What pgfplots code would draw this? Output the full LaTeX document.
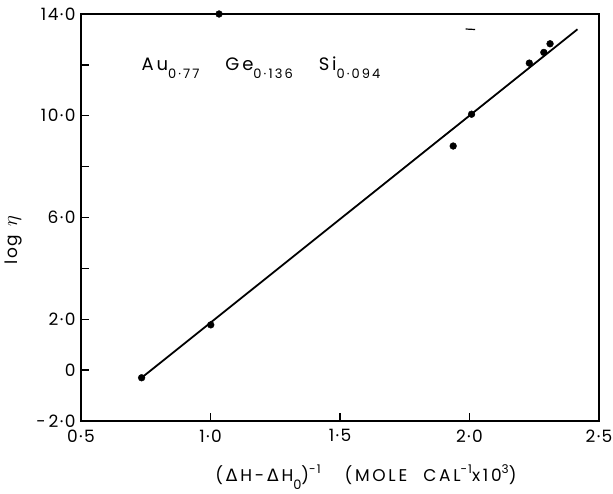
\documentclass[border=0pt]{standalone}
\usepackage{fontspec}
\setmainfont{Poppins}
\newfontfamily\dv{DejaVu Sans}
\newfontfamily\ls{Poppins}[LetterSpace=8]
\newfontfamily\lsw{Poppins}[LetterSpace=16]
\usepackage{pgfplots}
\pgfplotsset{compat=1.18}
\newcommand{\mysub}[1]{\raisebox{-8pt}{\fontsize{13}{14}\selectfont\ls #1}}
\newcommand{\mysubw}[1]{\raisebox{-8pt}{\fontsize{13}{14}\selectfont\lsw #1}}
\newcommand{\mysup}[1]{\raisebox{8pt}{\fontsize{12}{13}\selectfont\ls #1}}
\begin{document}
\begin{tikzpicture}
\useasboundingbox (-81pt,-72pt) rectangle (532pt,421pt);
\begin{axis}[
  at={(0pt,0pt)}, anchor=south west,
  scale only axis, width=518pt, height=407pt,
  xmin=0.5, xmax=2.5, ymin=-2, ymax=14,
  xtick={0.5,1,1.5,2,2.5},
  xticklabels={0·5,1·0,1·5,2·0,2·5},
  ytick={-2,0,2,6,10,14},
  yticklabels={-\,2·0,0,2·0,6·0,10·0,14·0},
  minor ytick={4,8,12},
  xtick pos=bottom, ytick pos=left,
  tick align=inside,
  major tick length=8pt, minor tick length=8pt,
  every tick/.style={black, line width=1.3pt},
  axis line style={line width=1.6pt},
  ticklabel style={font=\fontsize{17}{19}\selectfont\ls},
  xticklabel style={yshift=-5pt},
  yticklabel style={xshift=-2pt},
  xlabel={(\,{\dv Δ}\,H\,-\,{\dv Δ}\,H\mysub{0})\mysup{-1}\hspace{24pt}(MOLE\hspace{16pt}CAL\mysup{-1}x10\mysup{3})},
  xlabel style={font=\fontsize{17}{19}\selectfont\lsw, at={(axis description cs:0.55,-0.137)}, anchor=center},
  ylabel={log\, {\fontsize{22}{24}\selectfont$\eta$}},
  ylabel style={font=\fontsize{17}{19}\selectfont\ls, at={(axis description cs:-0.131,0.445)}, anchor=center},
  clip=false,
]
\addplot[black, line width=1.8pt] coordinates {(0.734,-0.30) (2.417,13.40)};
\addplot[black, only marks, mark=*, mark size=3.4pt] coordinates {
  (0.734,-0.30) (1.001,1.78) (1.033,14.0) (1.937,8.81) (2.008,10.06)
  (2.231,12.07) (2.287,12.49) (2.311,12.83)
};
\addplot[black, line width=1.2pt] coordinates {(1.985,13.41) (2.022,13.39)};
\node[anchor=west, font=\fontsize{18}{20}\selectfont\lsw] at (axis cs:0.72,11.9)
  {Au\mysubw{0·77}\hspace{26pt}Ge\mysubw{0·136}\hspace{26pt}Si\mysubw{0·094}};
\end{axis}
\end{tikzpicture}
\end{document}
